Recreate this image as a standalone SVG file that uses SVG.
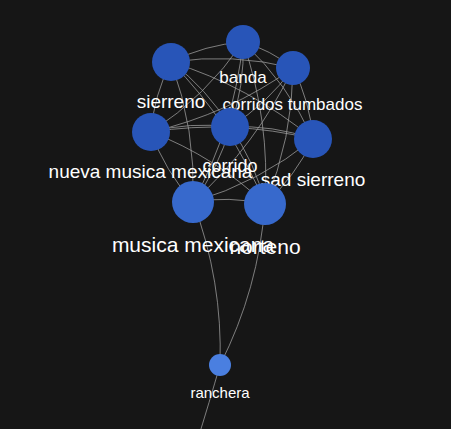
<svg xmlns="http://www.w3.org/2000/svg" width="451" height="429" viewBox="0 0 451 429">
<style>
.e{fill:none;stroke:#a0a0a0;stroke-opacity:0.75;stroke-width:1}
.n1{fill:#2855b8}
.n2{fill:#3769cc}
.n3{fill:#4a7fe0}
.l{fill:#ffffff;font-family:"Liberation Sans",Arial,sans-serif;text-anchor:middle}
</style>
<rect width="451" height="429" fill="#161616"/>
<g id="edges">
<path class="e" d="M171,62 Q205,44.8 243,42"/>
<path class="e" d="M243,42 Q270.6,50 293,68"/>
<path class="e" d="M243,42 Q206,96.2 151,132"/>
<path class="e" d="M243,42 Q245,85.8 230,127"/>
<path class="e" d="M243,42 Q287.7,83.5 313,139"/>
<path class="e" d="M243,42 Q234,127 193,202"/>
<path class="e" d="M243,42 Q270.2,120.8 265,204"/>
<path class="e" d="M171,62 Q232.6,52.8 293,68"/>
<path class="e" d="M151,132 Q154,95 171,62"/>
<path class="e" d="M171,62 Q207,88.6 230,127"/>
<path class="e" d="M171,62 Q249.7,86.3 313,139"/>
<path class="e" d="M171,62 Q196,129.8 193,202"/>
<path class="e" d="M171,62 Q232.2,123.6 265,204"/>
<path class="e" d="M293,68 Q228.4,114.2 151,132"/>
<path class="e" d="M293,68 Q267.4,103.8 230,127"/>
<path class="e" d="M293,68 Q310,101.5 313,139"/>
<path class="e" d="M293,68 Q256.4,145 193,202"/>
<path class="e" d="M293,68 Q292.6,138.8 265,204"/>
<path class="e" d="M151,132 Q190,121.6 230,127"/>
<path class="e" d="M151,132 Q232.7,119.3 313,139"/>
<path class="e" d="M193,202 Q165,171.2 151,132"/>
<path class="e" d="M151,132 Q215.2,156.6 265,204"/>
<path class="e" d="M230,127 Q272.7,124.7 313,139"/>
<path class="e" d="M230,127 Q219,168.2 193,202"/>
<path class="e" d="M230,127 Q255.2,162 265,204"/>
<path class="e" d="M313,139 Q259.3,182.5 193,202"/>
<path class="e" d="M313,139 Q295.5,176.3 265,204"/>
<path class="e" d="M193,202 Q229.2,195.8 265,204"/>
<path class="e" d="M193,202 Q222.8,280.8 220,365"/>
<path class="e" d="M265,204 Q258.6,289 220,365"/>
<path class="e" d="M220,365 Q210,400 196,445"/>
</g>
<g id="node-banda"><circle class="n1" cx="243" cy="42" r="17"/><text class="l" x="243" y="83" font-size="17">banda</text></g>
<g id="node-sierreno"><circle class="n1" cx="171" cy="62" r="19"/><text class="l" x="171" y="108" font-size="19">sierreno</text></g>
<g id="node-corridos-tumbados"><circle class="n1" cx="293" cy="68" r="17"/><text class="l" x="292.5" y="110" font-size="17">corridos tumbados</text></g>
<g id="node-nueva-musica-mexicana"><circle class="n1" cx="151" cy="132" r="19"/><text class="l" x="150.5" y="178" font-size="19">nueva musica mexicana</text></g>
<g id="node-corrido"><circle class="n1" cx="230" cy="127" r="19"/><text class="l" x="230" y="172" font-size="18">corrido</text></g>
<g id="node-sad-sierreno"><circle class="n1" cx="313" cy="139" r="19"/><text class="l" x="313" y="186" font-size="19">sad sierreno</text></g>
<g id="node-musica-mexicana"><circle class="n2" cx="193" cy="202" r="21"/><text class="l" x="193" y="252" font-size="21">musica mexicana</text></g>
<g id="node-norteno"><circle class="n2" cx="265" cy="204" r="21"/><text class="l" x="265" y="254" font-size="21">norteno</text></g>
<g id="node-ranchera"><circle class="n3" cx="220" cy="365" r="11"/><text class="l" x="220" y="398" font-size="15">ranchera</text></g>
</svg>
